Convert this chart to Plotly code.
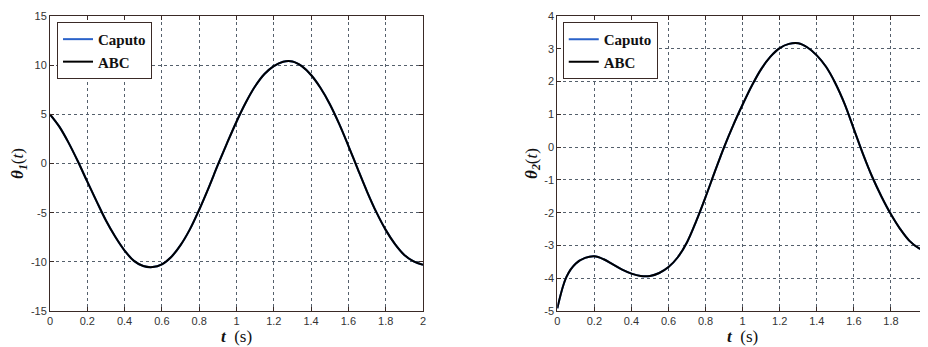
import plotly.graph_objects as go

# ---- data ----
t = [round(0.05 * i, 2) for i in range(41)]

abc_theta1 = [5.0, 3.75, 2.1, 0.2, -1.85, -3.85, -5.8, -7.45, -8.85, -9.9,
              -10.42, -10.53, -10.25, -9.5, -8.3, -6.7, -4.7, -2.5, -0.15, 2.1,
              4.25, 6.2, 7.85, 9.1, 9.9, 10.35, 10.38, 9.9, 9.0, 7.7,
              6.05, 4.05, 1.8, -0.55, -2.85, -4.95, -6.75, -8.2, -9.3, -9.95,
              -10.3]
caputo_theta1 = list(abc_theta1)

abc_theta2 = [-4.92, -3.95, -3.55, -3.38, -3.33, -3.42, -3.58, -3.74, -3.86, -3.93,
              -3.93, -3.84, -3.66, -3.36, -2.9, -2.25, -1.52, -0.75, 0.0, 0.68,
              1.3, 1.88, 2.38, 2.76, 3.02, 3.15, 3.17, 3.04, 2.8, 2.45,
              1.95, 1.32, 0.55, -0.22, -0.92, -1.52, -2.05, -2.5, -2.86, -3.08,
              -3.18]
caputo_theta2 = list(abc_theta2)

x_tickvals = [0, 0.2, 0.4, 0.6, 0.8, 1.0, 1.2, 1.4, 1.6, 1.8, 2.0]
x_ticktext = ["0", "0.2", "0.4", "0.6", "0.8", "1", "1.2", "1.4", "1.6", "1.8", "2"]
y1_tickvals = [-15, -10, -5, 0, 5, 10, 15]
y1_ticktext = ["-15", "-10", "-5", "0", "5", "10", "15"]
y2_tickvals = [-5, -4, -3, -2, -1, 0, 1, 2, 3, 4]
y2_ticktext = ["-5", "-4", "-3", "-2", "-1", "0", "1", "2", "3", "4"]

# ---- figure ----
fig = go.Figure()
BLUE = "#2a62c9"
BLACK = "#000000"

fig.add_trace(go.Scatter(x=t, y=caputo_theta1, mode="lines", name="<b>Caputo</b>",
                         line=dict(color=BLUE, width=2, shape="spline"),
                         xaxis="x", yaxis="y", legend="legend"))
fig.add_trace(go.Scatter(x=t, y=abc_theta1, mode="lines", name="<b>ABC</b>",
                         line=dict(color=BLACK, width=2, shape="spline"),
                         xaxis="x", yaxis="y", legend="legend"))
fig.add_trace(go.Scatter(x=t, y=caputo_theta2, mode="lines", name="<b>Caputo</b>",
                         line=dict(color=BLUE, width=2, shape="spline"),
                         xaxis="x2", yaxis="y2", legend="legend2"))
fig.add_trace(go.Scatter(x=t, y=abc_theta2, mode="lines", name="<b>ABC</b>",
                         line=dict(color=BLACK, width=2, shape="spline"),
                         xaxis="x2", yaxis="y2", legend="legend2"))

TICKFONT = dict(family="Liberation Sans, Arial", size=11, color="#333333")
TITLEFONT = dict(family="Liberation Serif, Times New Roman", size=17, color="#111111")
GRID = dict(showgrid=True, gridcolor="#55606c", griddash="dot", gridwidth=1,
            showline=True, linecolor="#3a2a26", linewidth=1, mirror="ticks",
            ticks="inside", ticklen=4, tickcolor="#3a2a26", zeroline=False,
            tickfont=TICKFONT, automargin=False)
LEGFONT = dict(family="Liberation Serif, Times New Roman", size=15, color="#111111")

# the page body adds an 8px offset; margins compensate for it
fig.update_layout(
    width=928, height=347,
    margin=dict(l=42, r=8, t=8, b=44),
    plot_bgcolor="white", paper_bgcolor="white",
    showlegend=True,
    xaxis=dict(domain=[0, 0.4248], range=[0, 2], tickvals=x_tickvals, ticktext=x_ticktext,
               title=dict(text="<b><i>t</i></b>  (s)", font=TITLEFONT, standoff=2),
               anchor="y", **GRID),
    yaxis=dict(domain=[0, 1], range=[-15, 15], tickvals=y1_tickvals, ticktext=y1_ticktext,
               title=dict(text="<b><i>θ</i><sub><i>1</i></sub></b>(<i>t</i>)", font=TITLEFONT, standoff=2),
               anchor="x", **GRID),
    xaxis2=dict(domain=[0.5778, 1.0], range=[0, 2], tickvals=x_tickvals, ticktext=x_ticktext,
                title=dict(text="<b><i>t</i></b>  (s)", font=TITLEFONT, standoff=2),
                anchor="y2", **GRID),
    yaxis2=dict(domain=[0, 1], range=[-5, 4], tickvals=y2_tickvals, ticktext=y2_ticktext,
                title=dict(text="<b><i>θ</i><sub><i>2</i></sub></b>(<i>t</i>)", font=TITLEFONT, standoff=2),
                anchor="x2", **GRID),
    legend=dict(x=0.008, y=0.98, xanchor="left", yanchor="top", xref="paper", yref="paper",
                bgcolor="white", bordercolor="#3a2a26", borderwidth=1,
                font=LEGFONT, tracegroupgap=0, itemwidth=30),
    legend2=dict(x=0.584, y=0.98, xanchor="left", yanchor="top", xref="paper", yref="paper",
                 bgcolor="white", bordercolor="#3a2a26", borderwidth=1,
                 font=LEGFONT, tracegroupgap=0, itemwidth=30),
)

fig.write_html("out.html", config={"displayModeBar": False})
